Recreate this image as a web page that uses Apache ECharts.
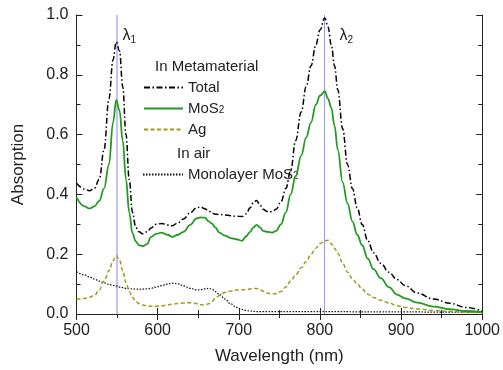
<!DOCTYPE html>
<html><head><meta charset="utf-8">
<script src="https://cdn.jsdelivr.net/npm/echarts@6/dist/echarts.min.js"></script>
<style>html,body{margin:0;padding:0;background:#fff}#c{width:503px;height:370px}</style>
</head><body><div id="c"></div>
<script>
const wavelengths = [500,510,516,522,528,534,540,545,549,553,557,561,565,569,573,577,582,587,592,598,605,612,618,625,632,640,648,653,658,663,667,671,676,683,690,697,704,709,714,718,722,726,730,735,741,746,752,758,764,770,777,783,789,795,800,806,810,814,818,822,828,834,840,846,852,859,866,875,885,895,905,920,940,960,980,1000];
const totalVals = [.437,.418,.412,.42,.45,.55,.72,.85,.91,.88,.76,.60,.45,.34,.29,.275,.268,.275,.288,.30,.303,.298,.295,.305,.318,.338,.355,.358,.352,.345,.337,.334,.333,.331,.329,.327,.326,.335,.355,.372,.38,.365,.35,.343,.342,.35,.375,.42,.48,.58,.676,.76,.83,.9,.95,.99,.96,.9,.83,.75,.62,.5,.42,.355,.3,.245,.205,.17,.14,.115,.095,.07,.05,.036,.022,.01];
const mos2Vals = [.39,.36,.353,.36,.378,.42,.50,.64,.716,.68,.58,.45,.34,.27,.243,.23,.227,.234,.258,.268,.272,.265,.258,.265,.275,.298,.32,.323,.322,.31,.302,.29,.272,.262,.254,.25,.245,.26,.275,.29,.298,.29,.278,.275,.272,.278,.30,.34,.40,.46,.53,.59,.64,.70,.73,.745,.72,.69,.63,.55,.44,.37,.31,.265,.23,.185,.15,.12,.09,.065,.052,.038,.025,.016,.01,.006];
const agVals = [.049,.052,.056,.062,.08,.11,.145,.178,.195,.18,.145,.105,.075,.055,.042,.035,.03,.027,.026,.026,.027,.03,.033,.035,.037,.038,.035,.031,.03,.034,.042,.052,.062,.072,.077,.08,.081,.082,.084,.086,.085,.082,.076,.07,.067,.068,.075,.09,.11,.13,.155,.175,.2,.22,.235,.245,.247,.235,.22,.203,.17,.14,.118,.1,.083,.066,.055,.046,.037,.028,.022,.017,.012,.009,.006,.004];
const monolayerVals = [.141,.131,.124,.117,.11,.104,.099,.096,.093,.09,.088,.086,.085,.084,.083,.083,.083,.084,.086,.09,.095,.1,.103,.101,.094,.086,.081,.081,.084,.086,.083,.075,.066,.05,.034,.022,.015,.012,.01,.009,.008,.008,.008,.008,.008,.008,.008,.008,.008,.008,.008,.008,.008,.008,.008,.008,.008,.008,.008,.008,.008,.008,.007,.007,.007,.007,.007,.007,.007,.007,.007,.007,.006,.006,.006,.006];
const peakWavelengths = [550, 805];
const peakNames = ['1', '2'];
const xRange = [500, 1000];
const yRange = [0, 1.0];

const FONT = 'Liberation Sans, Arial, sans-serif';
const pair = v => wavelengths.map((w, i) => [w, v[i]]);
const chart = echarts.init(document.getElementById('c'));

const tick = () => ({show: true, inside: true, length: 6, lineStyle: {color: '#222', width: 1}});
const minor = () => ({show: true, splitNumber: 2, length: 4});
const line = () => ({show: true, lineStyle: {color: '#222'}});
const rich = {sub: {fontSize: 10, verticalAlign: 'bottom', padding: [8, 0, 0, 0], fontFamily: FONT, color: '#222'}};
const legendHide = {color: 'rgba(0,0,0,0)', borderColor: 'rgba(0,0,0,0)', borderWidth: 0};
const lambdaLabel = (i, dist) => ({
  coord: [peakWavelengths[i], 0.93],
  label: {show: true, position: 'right', distance: dist, formatter: 'λ{sub|' + peakNames[i] + '}',
    fontFamily: FONT, fontSize: 16, color: '#222', rich: rich}
});

chart.setOption({
  animation: false,
  grid: {left: 76.5, right: 17.5, top: 15, bottom: 56},
  xAxis: [
    {type: 'value', min: xRange[0], max: xRange[1], interval: 100, axisTick: tick(), minorTick: minor(), axisLine: line(),
      splitLine: {show: false},
      name: 'Wavelength (nm)', nameLocation: 'middle', nameGap: 34,
      nameTextStyle: {fontFamily: FONT, fontSize: 17, color: '#222'},
      axisLabel: {fontFamily: FONT, fontSize: 16, color: '#222', margin: 9, formatter: v => String(v)}},
    {type: 'value', min: xRange[0], max: xRange[1], interval: 100, position: 'top', axisTick: tick(), minorTick: minor(),
      axisLine: line(), splitLine: {show: false}, axisLabel: {show: false}}
  ],
  yAxis: [
    {type: 'value', min: yRange[0], max: yRange[1], interval: 0.2, axisTick: tick(), minorTick: minor(), axisLine: line(),
      splitLine: {show: false},
      name: 'Absorption', nameLocation: 'middle', nameGap: 50,
      nameTextStyle: {fontFamily: FONT, fontSize: 17, color: '#222'},
      axisLabel: {fontFamily: FONT, fontSize: 16, color: '#222', margin: 8, formatter: v => v.toFixed(1)}},
    {type: 'value', min: yRange[0], max: yRange[1], interval: 0.2, position: 'right', axisTick: tick(), minorTick: minor(),
      axisLine: line(), splitLine: {show: false}, axisLabel: {show: false}}
  ],
  legend: [
    {data: ['Total', 'MoS2', 'Ag'], orient: 'vertical', left: 138, top: 75, itemWidth: 39, itemHeight: 14, itemGap: 6,
      itemStyle: legendHide,
      textStyle: {fontFamily: FONT, fontSize: 15, color: '#222', lineHeight: 14, rich: rich},
      formatter: n => n === 'MoS2' ? 'MoS{sub|2}' : n, selectedMode: false},
    {data: ['Monolayer MoS2'], orient: 'vertical', left: 137, top: 162, itemWidth: 40, itemHeight: 14,
      itemStyle: legendHide,
      textStyle: {fontFamily: FONT, fontSize: 15, color: '#222', lineHeight: 14, rich: rich},
      formatter: n => 'Monolayer MoS{sub|2}', selectedMode: false}
  ],
  graphic: [
    {type: 'text', left: 155, top: 59, style: {text: 'In Metamaterial', fill: '#222', font: '15px ' + FONT}},
    {type: 'text', left: 177, top: 146, style: {text: 'In air', fill: '#222', font: '15px ' + FONT}}
  ],
  series: [
    {name: 'Monolayer MoS2', type: 'line', data: pair(monolayerVals), symbol: 'none', smooth: 0.4, smoothMonotone: 'x',
      lineStyle: {color: '#111', width: 1.2, type: [1.5, 1.5]}, itemStyle: {color: '#111'}, z: 2},
    {name: 'Ag', type: 'line', data: pair(agVals), symbol: 'none', smooth: 0.4, smoothMonotone: 'x',
      lineStyle: {color: '#a09a22', width: 1.5, type: [4, 2.5]}, itemStyle: {color: '#a09a22'}, z: 3},
    {name: 'MoS2', type: 'line', data: pair(mos2Vals), symbol: 'none', smooth: 0.4, smoothMonotone: 'x',
      lineStyle: {color: '#239a23', width: 1.8}, itemStyle: {color: '#239a23'}, z: 4},
    {name: 'Total', type: 'line', data: pair(totalVals), symbol: 'none', smooth: 0.4, smoothMonotone: 'x',
      lineStyle: {color: '#000', width: 1.5, type: [6, 2.5, 1.5, 2.5]}, itemStyle: {color: '#000'}, z: 5,
      markPoint: {silent: true, symbol: 'circle', symbolSize: 1, itemStyle: {color: 'rgba(0,0,0,0)'},
        data: [lambdaLabel(0, 5), lambdaLabel(1, 15)]},
      markLine: {silent: true, symbol: 'none', label: {show: false},
        data: [
          {xAxis: peakWavelengths[0], lineStyle: {color: '#c2c2f4', width: 2, type: 'solid'}},
          {xAxis: peakWavelengths[1], lineStyle: {color: '#9a9af2', width: 1, type: 'solid'}}
        ], z: 1}}
  ]
});
</script>
</body></html>
